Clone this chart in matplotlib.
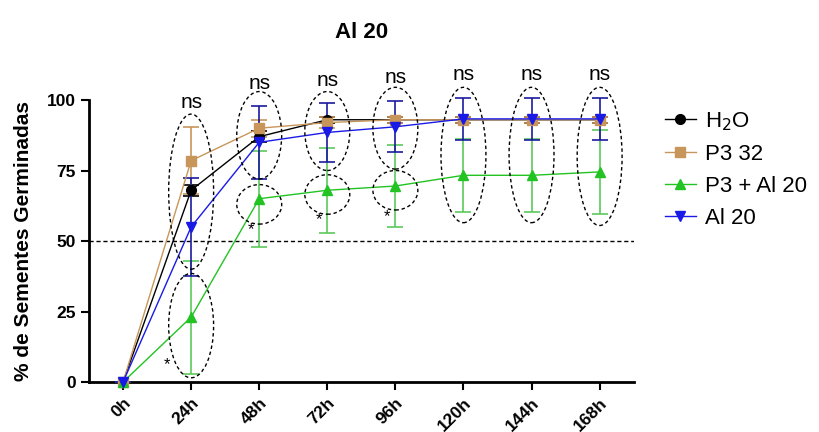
import matplotlib.pyplot as plt
from matplotlib.patches import Ellipse
from matplotlib.lines import Line2D
import numpy as np

plt.rcParams['font.family'] = ['Liberation Sans', 'DejaVu Sans']

# data
times = ['0h', '24h', '48h', '72h', '96h', '120h', '144h', '168h']
h2o = [0, 68, 87, 93, 93, 93, 93, 93]
h2o_sd = [0, 2, 2, 1, 1, 1, 1, 1]
p3_32 = [0, 78.5, 90, 92, 93, 93, 93, 93]
p3_32_sd = [0, 12, 3, 2, 1, 1, 1, 1]
p3_al = [0, 23, 65, 68, 69.5, 73.3, 73.3, 74.5]
p3_al_sd = [0, 20, 17, 15, 14.5, 13, 13, 15]
al20 = [0, 55, 85, 88.5, 90.5, 93.3, 93.3, 93.3]
al20_sd = [0, 17.5, 13, 10.5, 9, 7.5, 7.5, 7.5]

# ellipses: (time index, centre, height)
ellipses = [(1, 67.5, 55), (1, 20, 37), (2, 87.5, 31), (2, 63, 14),
            (3, 89, 28), (3, 66.5, 14), (4, 90, 29), (4, 68, 14),
            (5, 80.5, 48), (6, 80.5, 48), (7, 80, 49)]
ns_y = [None, 99, 106, 107, 108, 109, 109, 109]
stars = [(1, 6), (2, 54), (3, 57.5), (4, 58.5)]

x = np.arange(len(times))

fig = plt.figure(figsize=(8.19, 4.32), dpi=100)
ax = fig.add_axes([0.1087, 0.1157, 0.665, 0.6528])

series = [
    ('H$_2$O', h2o, h2o_sd, 'black', 'black', 'o'),
    ('P3 32', p3_32, p3_32_sd, '#C8965A', '#C8965A', 's'),
    ('P3 + Al 20', p3_al, p3_al_sd, '#22C322', '#5CC85C', '^'),
    ('Al 20', al20, al20_sd, '#1A1AE6', '#1A1AA0', 'v'),
]
handles = []
for label, y, sd, c, ec, m in series:
    ax.errorbar(x, y, yerr=sd, color=c, ecolor=ec, marker=m, markersize=7,
                lw=1, elinewidth=1.2, capsize=6, capthick=1.2,
                clip_on=False, zorder=3)
    handles.append(Line2D([], [], color=c, marker=m, markersize=7, lw=1,
                          label=label))

ax.axhline(50, color='black', ls=(0, (3, 2)), lw=1)

for i, cy, h in ellipses:
    ax.add_patch(Ellipse((x[i], cy), 0.66, h, fill=False, ec='black',
                         ls=(0, (2.5, 2)), lw=1, clip_on=False, zorder=4))

for i, yv in enumerate(ns_y):
    if yv is not None:
        ax.text(x[i], yv, 'ns', ha='center', va='center', fontsize=15,
                clip_on=False)

for i, yv in stars:
    dx = -0.35 if i == 1 else -0.12
    ax.text(x[i] + dx, yv, '*', ha='center', va='center', fontsize=12)

ax.set_xlim(-0.5, 7.5)
ax.set_ylim(0, 100)
ax.set_yticks([0, 25, 50, 75, 100])
ax.set_xticks(x)
ax.set_xticklabels(times, rotation=45, ha='right', rotation_mode='anchor',
                   fontweight='bold', fontsize=12.5)
for t in ax.get_yticklabels():
    t.set_fontweight('bold')
    t.set_fontsize(12.5)
ax.tick_params(width=1.5, length=6)
ax.spines['top'].set_visible(False)
ax.spines['right'].set_visible(False)
ax.spines['left'].set_linewidth(2)
ax.spines['bottom'].set_linewidth(2)

ax.set_ylabel('% de Sementes Germinadas', fontweight='bold', fontsize=15,
              labelpad=10)
ax.set_title('Al 20', fontweight='bold', fontsize=16, pad=45)

ax.legend(handles=handles, loc='upper left', bbox_to_anchor=(1.02, 1.035),
          frameon=False, fontsize=16, handlelength=1.4, labelspacing=0.5,
          handletextpad=0.4)

fig.savefig('out.png', dpi=100)
